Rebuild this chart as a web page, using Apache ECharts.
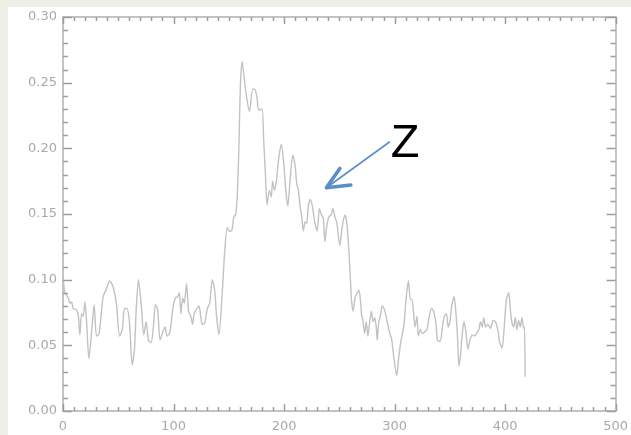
<!DOCTYPE html>
<html>
<head>
<meta charset="utf-8">
<script src="https://cdn.jsdelivr.net/npm/echarts@6/dist/echarts.min.js"></script>
<style>
  html, body { margin: 0; padding: 0; background: #efeee7; }
  #frame { position: absolute; left: 8px; top: 7px; width: 623px; height: 428px; background: #ffffff; }
</style>
</head>
<body>
<div id="frame"></div>
<script>
// Profile samples: position along the track and measured signal
const positions = [
  0.3, 1.8, 4.8, 6.3, 7.8, 9.3, 12.3, 13.8, 15.3, 16.8, 18.3, 19.8, 21.3, 23.4, 25.8, 28.2, 30.3, 32.7,
  36.3, 39.3, 42.2, 45.2, 48.3, 51.2, 53.6, 55.7, 57.8, 60.2, 62.6, 64.7, 66.2, 68.3, 70.7, 73.1, 75.2,
  77.3, 79.7, 81.8, 83.6, 85.7, 87.8, 90.2, 92.3, 94.1, 96.8, 99.2, 101.6, 103.7, 105.2, 106.7, 108.2,
  109.7, 111.8, 113.6, 115.7, 117.2, 118.6, 121.1, 123.1, 124.6, 126.1, 128.2, 130.6, 132.7, 135.1,
  137.2, 139.0, 141.1, 144.1, 146.2, 148.6, 150.1, 152.5, 154.6, 156.1, 157.6, 159.1, 160.6, 162.1,
  165.1, 168.7, 171.7, 173.5, 175.6, 177.1, 180.1, 181.6, 183.1, 184.6, 186.7, 188.5, 189.6, 191.4,
  193.2, 195.0, 197.4, 199.5, 201.6, 203.4, 205.5, 207.9, 210.0, 211.5, 213.0, 214.5, 216.0, 217.5,
  219.0, 220.5, 222.0, 223.8, 225.6, 228.0, 230.1, 231.9, 234.0, 235.5, 237.0, 238.5, 240.6, 242.4,
  244.2, 246.0, 247.8, 250.5, 252.6, 255.0, 256.8, 258.6, 260.2, 261.0, 262.4, 264.5, 266.3, 267.8,
  269.4, 270.3, 271.4, 272.9, 274.4, 275.9, 277.5, 279.0, 280.5, 282.0, 283.4, 284.3, 285.6, 287.3,
  288.8, 290.9, 293.3, 295.4, 297.5, 299.3, 302.0, 303.8, 305.9, 308.3, 310.4, 312.5, 314.3, 315.7,
  317.3, 318.5, 320.3, 321.5, 323.3, 325.4, 326.9, 329.3, 331.4, 333.5, 335.3, 337.4, 338.8, 341.2,
  343.3, 344.9, 346.9, 348.5, 350.3, 351.7, 353.9, 355.3, 356.8, 358.3, 359.8, 361.3, 362.8, 364.3,
  366.4, 368.2, 370.3, 372.4, 374.8, 376.3, 377.8, 379.3, 380.8, 382.3, 384.4, 386.8, 389.2, 391.3,
  393.4, 395.2, 397.3, 398.8, 401.2, 403.3, 404.8, 406.3, 407.8, 409.2, 410.7, 412.3, 413.7, 415.3,
  416.8, 417.6, 418.2
];
const signal = [
  0.100, 0.090, 0.086, 0.082, 0.083, 0.078, 0.077, 0.073, 0.058, 0.074, 0.072, 0.083, 0.069, 0.040, 0.059, 0.081, 0.057, 0.059,
  0.087, 0.093, 0.099, 0.095, 0.082, 0.057, 0.062, 0.078, 0.078, 0.067, 0.035, 0.047, 0.077, 0.100, 0.082, 0.058, 0.068,
  0.054, 0.052, 0.064, 0.081, 0.077, 0.054, 0.060, 0.064, 0.057, 0.060, 0.077, 0.086, 0.087, 0.090, 0.074, 0.086,
  0.082, 0.097, 0.076, 0.072, 0.066, 0.074, 0.078, 0.080, 0.072, 0.066, 0.067, 0.078, 0.082, 0.100,
  0.092, 0.072, 0.058, 0.090, 0.120, 0.140, 0.137, 0.137, 0.148, 0.149, 0.163, 0.199, 0.250, 0.266,
  0.245, 0.228, 0.245, 0.245, 0.238, 0.229, 0.230, 0.206, 0.181, 0.157, 0.168, 0.163, 0.175, 0.168,
  0.176, 0.191, 0.203, 0.191, 0.168, 0.156, 0.176, 0.195, 0.187, 0.173, 0.168, 0.156, 0.148, 0.137,
  0.144, 0.143, 0.156, 0.161, 0.156, 0.143, 0.137, 0.154, 0.149, 0.147, 0.129, 0.140, 0.148, 0.149,
  0.154, 0.148, 0.143, 0.126, 0.140, 0.149, 0.143, 0.123, 0.098, 0.085, 0.076, 0.087, 0.090, 0.092,
  0.082, 0.072, 0.069, 0.059, 0.068, 0.057, 0.068, 0.076, 0.068, 0.071, 0.064, 0.054, 0.067, 0.073,
  0.080, 0.077, 0.068, 0.060, 0.054, 0.041, 0.027, 0.041, 0.054, 0.064, 0.085, 0.099, 0.085, 0.085,
  0.074, 0.064, 0.072, 0.057, 0.062, 0.059, 0.060, 0.062, 0.072, 0.078, 0.076, 0.067, 0.054, 0.053,
  0.064, 0.072, 0.074, 0.064, 0.069, 0.080, 0.087, 0.077, 0.059, 0.034, 0.044, 0.059, 0.068, 0.062,
  0.047, 0.054, 0.058, 0.057, 0.060, 0.062, 0.068, 0.064, 0.071, 0.064, 0.066, 0.063, 0.069, 0.068,
  0.062, 0.052, 0.048, 0.059, 0.085, 0.090, 0.077, 0.067, 0.064, 0.071, 0.062, 0.069, 0.064, 0.071,
  0.063, 0.064, 0.026
];
const xTicks = [0, 100, 200, 300, 400, 500];
const yTicks = [0.00, 0.05, 0.10, 0.15, 0.20, 0.25, 0.30];
const xMinorPerMajor = 10;
const yMinorPerMajor = 5;

// Callout "Z": arrow from the label down to the curve, in data units
const calloutLabel = 'Z';
const arrowTail = [295.7, 0.205];
const arrowTip = [238.3, 0.170];
const arrowArmA = [250.5, 0.1847];
const arrowArmB = [260.4, 0.1721];
const labelAnchor = [296.5, 0.2033];

const AXIS = '#b0b0b0';
const TICK = '#9c9c9c';
const LABEL = '#a9a9a9';
const FONT = 'DejaVu Sans';
const ARROW = '#5b8dc8';

const xMin = xTicks[0], xMax = xTicks[xTicks.length - 1];
const yMin = yTicks[0], yMax = yTicks[yTicks.length - 1];

const chart = echarts.init(document.getElementById('frame'));

function xAxisDef(pos, showLabel) {
  return {
    type: 'value', position: pos,
    min: xMin, max: xMax, interval: xTicks[1] - xTicks[0],
    axisLine: { show: true, onZero: false, lineStyle: { color: AXIS, width: 1.5 } },
    axisTick: { show: false },
    minorTick: { show: false },
    splitLine: { show: false },
    axisLabel: { show: showLabel, color: LABEL, fontSize: 13, fontFamily: FONT, margin: 9 }
  };
}
function yAxisDef(pos, showLabel) {
  return {
    type: 'value', position: pos,
    min: yMin, max: yMax, interval: yTicks[1] - yTicks[0],
    axisLine: { show: true, onZero: false, lineStyle: { color: AXIS, width: 1.5 } },
    axisTick: { show: false },
    minorTick: { show: false },
    splitLine: { show: false },
    axisLabel: { show: showLabel, color: LABEL, fontSize: 13, fontFamily: FONT, margin: 6,
      formatter: v => v.toFixed(2) }
  };
}

// Inward tick marks on all four sides of the frame, placed through the axis scales
function renderTicks(params, api) {
  const kids = [];
  const snap = v => Math.round(v) + 0.5;
  const tick = (p, dx, dy) => {
    const x = dx === 0 ? snap(p[0]) : p[0];
    const y = dy === 0 ? snap(p[1]) : p[1];
    kids.push({ type: 'line',
      shape: { x1: x, y1: y, x2: x + dx, y2: y + dy },
      style: { stroke: TICK, lineWidth: 1.5 } });
  };
  const xStep = (xTicks[1] - xTicks[0]) / xMinorPerMajor;
  const xCount = Math.round((xMax - xMin) / xStep);
  for (let i = 0; i <= xCount; i++) {
    const v = xMin + i * xStep;
    const len = i % xMinorPerMajor === 0 ? 7 : 4;
    tick(api.coord([v, yMin]), 0, -len);
    tick(api.coord([v, yMax]), 0, len);
  }
  const yStep = (yTicks[1] - yTicks[0]) / yMinorPerMajor;
  const yCount = Math.round((yMax - yMin) / yStep);
  for (let i = 0; i <= yCount; i++) {
    const v = yMin + i * yStep;
    const len = i % yMinorPerMajor === 0 ? 9 : 5;
    tick(api.coord([xMin, v]), len, 0);
    tick(api.coord([xMax, v]), -len, 0);
  }
  return { type: 'group', children: kids };
}

// Arrow and letter drawn as one custom item, positioned through the grid's coordinates
function renderCallout(params, api) {
  const tail = api.coord(arrowTail), tip = api.coord(arrowTip);
  const armA = api.coord(arrowArmA), armB = api.coord(arrowArmB), lab = api.coord(labelAnchor);
  return {
    type: 'group',
    children: [
      { type: 'line', shape: { x1: tail[0], y1: tail[1], x2: tip[0], y2: tip[1] },
        style: { stroke: ARROW, lineWidth: 1.6 } },
      { type: 'polyline', shape: { points: [armA, tip, armB] },
        style: { stroke: ARROW, lineWidth: 3.6, fill: null, lineCap: 'round', lineJoin: 'round' } },
      { type: 'text', x: lab[0], y: lab[1],
        style: { text: calloutLabel, fill: '#000000', font: '47px "Liberation Sans"',
          textAlign: 'left', textVerticalAlign: 'middle' } }
    ]
  };
}

chart.setOption({
  animation: false,
  grid: { left: 55, top: 10, right: 12, bottom: 24 },
  xAxis: [xAxisDef('bottom', true), xAxisDef('top', false)],
  yAxis: [yAxisDef('left', true), yAxisDef('right', false)],
  series: [{
    type: 'custom',
    xAxisIndex: 0, yAxisIndex: 0,
    data: [[xMin, yMin]],
    renderItem: renderTicks,
    clip: false,
    silent: true,
    z: 5
  }, {
    type: 'line',
    xAxisIndex: 0, yAxisIndex: 0,
    data: positions.map((p, i) => [p, signal[i]]),
    showSymbol: false,
    smooth: 0.25,
    lineStyle: { color: '#c2c2c2', width: 1.4 }
  }, {
    type: 'custom',
    xAxisIndex: 0, yAxisIndex: 0,
    data: [[arrowTip[0], arrowTip[1]]],
    renderItem: renderCallout,
    clip: false,
    silent: true,
    z: 6
  }]
});
</script>
</body>
</html>
